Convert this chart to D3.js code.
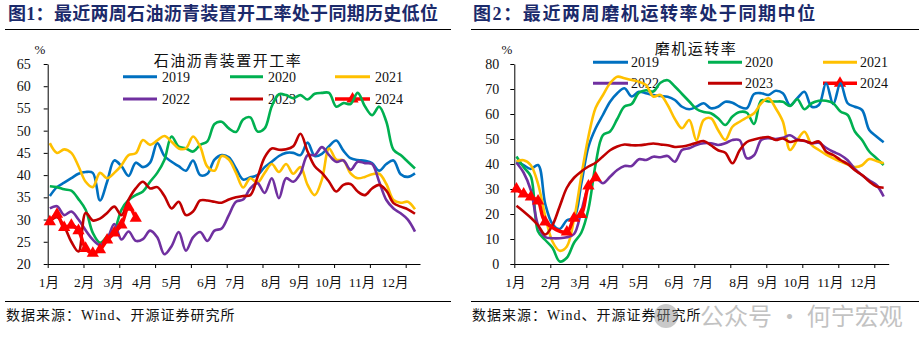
<!DOCTYPE html>
<html>
<head>
<meta charset="utf-8">
<script src="https://cdn.jsdelivr.net/npm/d3@7"></script>
<style>
  body { margin: 0; background: #fff; }
  svg { display: block; }
</style>
</head>
<body>
<svg id="chart" width="922" height="354"></svg>
<script>
/* ---------- data ---------- */
const years = ['2019', '2020', '2021', '2022', '2023', '2024'];
const colors = ['#0070C0', '#00B050', '#FFC000', '#7030A0', '#C00000', '#FF0000'];
const monthLabels = ['1月', '2月', '3月', '4月', '5月', '6月', '7月', '8月', '9月', '10月', '11月', '12月'];
// label centres in week units (axis runs 0..52)
const monthPos = [0.15, 5.1, 9.2, 13.2, 17.35, 22.25, 26.2, 31.25, 35.2, 39.25, 43.9, 48.5];

// 石油沥青装置开工率 (%), weekly
const asphalt2019 = [35.3, 37.3, 38.3, 39.3, 40.3, 40.7, 40.5, 34.3, 38.5, 43.3, 42, 39.8, 42.8, 41.8, 42.8, 47.2, 44.3, 43, 42, 41, 43.3, 40, 40.3, 43.5, 44.5, 44, 41.5, 39, 39.5, 40, 41.8, 43, 44.3, 45, 45, 44.5, 47.3, 44.3, 44.8, 46.5, 47.8, 45.5, 43.8, 43.4, 43.2, 42.7, 41, 42.5, 43.3, 40.2, 39.6, 40.4];
const asphalt2020 = [37.5, 37.3, 36.8, 36.5, 34.6, 32.2, 27, 24.8, 26.2, 27.6, 32.2, 34.4, 35.5, 36.3, 38.5, 40.5, 43.4, 48.7, 46.4, 46, 45.3, 46.8, 47.6, 51.5, 52, 50.5, 49.7, 52.5, 53, 49.8, 50.5, 55.5, 58.2, 58, 57.3, 58, 57, 58.3, 58.5, 58.5, 55.4, 56.2, 56, 58.5, 55.5, 53.5, 55.4, 52, 45.7, 44.5, 43, 41.5];
const asphalt2021 = [47.2, 45, 45.8, 45, 42, 38.5, 37.3, 40.5, 39.3, 40.5, 42.2, 44.5, 44.9, 47.9, 46.8, 47.8, 48.8, 47.5, 46, 46, 48.7, 46.4, 41.9, 41, 44.3, 43.5, 40.5, 37.2, 39.3, 38.3, 40.5, 42.5, 40.7, 42.5, 40.3, 41.8, 37.8, 35.5, 39, 46, 43.5, 43.3, 40.4, 39.3, 39.6, 40.2, 40.3, 38, 34.4, 33.8, 34, 32.3];
const asphalt2022 = [32.5, 33, 31, 31.8, 30, 27.6, 25.5, 24.3, 25.6, 29, 25.5, 27.3, 25.2, 25.6, 27.5, 26, 22.2, 24, 27.2, 23, 26, 27.2, 25.2, 27.5, 28, 31, 34, 34.5, 37, 38.2, 36, 39.3, 34.8, 39.3, 38.5, 40.4, 44.5, 44.5, 46.3, 44.5, 43, 43.3, 41.2, 43, 42.7, 42.5, 38.5, 34.4, 32.5, 31.4, 30, 27.3];
const asphalt2023 = [29.5, 30.5, 28.5, 25, 22.8, 31.5, 29.8, 30.2, 31.5, 32.9, 31, 34.5, 37, 38.5, 37, 37.3, 35.3, 32.5, 34, 31, 31.8, 34.3, 34.3, 34, 33.8, 34.5, 35, 35.3, 35.5, 39.5, 44, 46, 45.7, 45.8, 46.5, 49.3, 45.3, 42, 40.5, 38.5, 36.3, 37.8, 38, 36.3, 35.5, 37, 37.8, 36.5, 33.7, 32.9, 32.3, 31.3];
const asphalt2024 = [29.5, 31.2, 28.2, 28.7, 27.5, 23.5, 22.4, 23.2, 25.4, 27, 28.8, 32.8, 30.3];

// 磨机运转率 (%), weekly; 2024 has no reading in the two Spring Festival weeks
const mill2019 = [41, 39.5, 38, 39.6, 24, 16, 14, 17.5, 18.5, 32, 46.9, 54.3, 59.6, 64.9, 68.3, 70.3, 67, 68.9, 68.3, 67.6, 67.2, 66.9, 65.6, 62.9, 61.9, 62.9, 64.3, 62.3, 62.9, 64.9, 64.5, 62.9, 62.3, 68, 68.3, 67.6, 69.3, 68.3, 63.5, 66.3, 68.9, 62.9, 63.6, 72.3, 64, 72.3, 64.3, 62.9, 61.6, 53.6, 51, 48.7];
const mill2020 = [43, 38.7, 35, 13, 9.6, 6.5, 1, 2.5, 8.5, 12.5, 22, 40, 51.5, 53, 58, 63, 64, 68.5, 69.5, 69, 72.5, 73.5, 71, 68, 65, 62, 60.8, 60.3, 58.3, 55.6, 59, 60.8, 60.5, 56, 65.5, 65, 65, 64.9, 63.2, 65.9, 61.9, 64.3, 65.3, 65.3, 64.3, 61, 59.6, 53, 49.6, 45, 42.3, 39.6];
const mill2021 = [41, 41.5, 39.5, 32, 19, 9, 5.3, 7, 18, 35, 51, 62.5, 67.5, 72.3, 74.9, 74.3, 73.6, 72.9, 71.6, 67, 67.6, 63.6, 58, 54.3, 57.6, 49.5, 57.6, 58.3, 53.6, 49.6, 54.9, 56.9, 58.6, 60.3, 64.3, 66.3, 62.3, 57, 45.6, 49.6, 52.9, 47.6, 45.6, 43.8, 42.3, 41, 39.8, 38.8, 39.5, 42, 41.2, 40.3];
const mill2022 = [40.5, 36.5, 29.5, 15.5, 10.8, 10.3, 10.3, 10.7, 12, 21, 30.9, 34.3, 32.3, 34.9, 37.6, 39.2, 39.2, 41.9, 41.6, 42.9, 42.7, 43.2, 40.9, 45.6, 46.3, 47.6, 48.3, 48.3, 47.6, 48.3, 49.6, 49.5, 42.3, 43.5, 49.6, 50.3, 50, 50.5, 51.5, 49.8, 49.2, 48.3, 48.5, 46.5, 44.9, 43.6, 41.5, 38, 35.5, 33.5, 31.6, 27];
const mill2023 = [23.3, 21, 18.5, 15.5, 11.8, 15.5, 23, 30.5, 34.5, 37, 39, 40.5, 43, 45.5, 47, 47.8, 47.5, 47.5, 47.8, 48.2, 47.8, 47.5, 46.8, 47, 47.6, 48.5, 49.2, 47.5, 45.5, 44.5, 40.3, 45.5, 48.8, 49.8, 50.5, 50.8, 49.6, 50.2, 48.8, 49.5, 49.3, 48.3, 49, 45, 43.6, 41.6, 40, 37.5, 35.6, 33, 31, 30.5];
const mill2024 = [30, 28, 26.8, 25.2, 16.8, null, null, 12.8, 18.3, 19.8, 31.2, 34.5];

const asphaltTicks = [20, 25, 30, 35, 40, 45, 50, 55, 60, 65];
const millTicks = [0, 10, 20, 30, 40, 50, 60, 70, 80];

/* ---------- drawing ---------- */
const svg = d3.select('#chart');
const SERIF = "'Liberation Serif', 'Noto Sans CJK SC', serif";
const CJK = "'Noto Sans CJK SC', sans-serif";
const TOP = 64, BOTTOM = 264;
const MARK = 65; // triangle marker area

function drawPanel(p) {
  const g = svg.append('g');
  const x = d3.scaleLinear().domain([0, 52]).range([p.x0, p.x1]);
  const y = d3.scaleLinear().domain(p.yDomain).range([BOTTOM, TOP]);
  const px = i => x(i + 0.3);

  // header
  g.append('text')
    .attr('x', p.titleX).attr('y', 20)
    .attr('font-family', SERIF).attr('font-size', 18).attr('font-weight', 'bold')
    .attr('letter-spacing', p.titleSpacing)
    .attr('fill', '#1B2A6B')
    .text(p.title);
  g.append('line')
    .attr('x1', p.ruleX[0]).attr('x2', p.ruleX[1]).attr('y1', 29.5).attr('y2', 29.5)
    .attr('stroke', '#000').attr('stroke-width', 1);

  // footer
  g.append('line')
    .attr('x1', p.ruleX[0]).attr('x2', p.ruleX[1]).attr('y1', 301.5).attr('y2', 301.5)
    .attr('stroke', '#000').attr('stroke-width', 1);
  g.append('text')
    .attr('x', p.ruleX[0] + 1).attr('y', 320)
    .attr('font-family', SERIF).attr('font-size', 14).attr('letter-spacing', 1)
    .attr('fill', '#111')
    .text('数据来源：Wind、开源证券研究所');

  // axes
  const yAxis = g.append('g')
    .attr('transform', `translate(${p.x0},0)`)
    .call(d3.axisLeft(y).tickValues(p.yTicks).tickSize(4).tickSizeOuter(0).tickPadding(p.tickPad));
  const xAxis = g.append('g')
    .attr('transform', `translate(0,${BOTTOM})`)
    .call(d3.axisBottom(x).tickValues(d3.range(0, 51, 5)).tickSize(4).tickSizeOuter(0).tickFormat(''));
  [yAxis, xAxis].forEach(a => {
    a.select('.domain').attr('stroke', '#000');
    a.selectAll('.tick line').attr('stroke', '#000');
    a.selectAll('text').attr('font-family', SERIF).attr('font-size', 14).attr('fill', '#111');
  });

  g.append('g').selectAll('text')
    .data(monthLabels)
    .join('text')
    .attr('x', (d, i) => x(monthPos[i]))
    .attr('y', 287)
    .attr('text-anchor', 'middle')
    .attr('font-family', SERIF).attr('font-size', 13.5).attr('fill', '#111')
    .text(d => d);

  g.append('text')
    .attr('x', p.pctX).attr('y', 54)
    .attr('text-anchor', 'middle')
    .attr('font-family', SERIF).attr('font-size', 13).attr('fill', '#111')
    .text('%');

  g.append('text')
    .attr('x', p.nameX).attr('y', p.nameY)
    .attr('text-anchor', 'middle')
    .attr('font-family', CJK).attr('font-size', 15).attr('letter-spacing', 1.5)
    .attr('fill', '#111')
    .text(p.name);

  // legend (under the lines, as in the source)
  const leg = g.append('g');
  years.forEach((yr, i) => {
    const row = Math.floor(i / 3), col = i % 3;
    const ly = p.legRows[row];
    const [lx1, lx2] = p.legCols[col];
    leg.append('line')
      .attr('x1', lx1).attr('x2', lx2).attr('y1', ly).attr('y2', ly)
      .attr('stroke', colors[i]).attr('stroke-width', i === 5 ? 3.5 : 3);
    if (i === 5) {
      leg.append('path')
        .attr('d', d3.symbol(d3.symbolTriangle, MARK)())
        .attr('transform', `translate(${(lx1 + lx2) / 2},${ly})`)
        .attr('fill', colors[i]);
    }
    leg.append('text')
      .attr('x', lx2 + p.legGap).attr('y', ly + 5)
      .attr('font-family', SERIF).attr('font-size', 14).attr('fill', '#111')
      .text(yr);
  });

  // lines
  const line = d3.line()
    .x(d => px(d.i))
    .y(d => y(d.v))
    .curve(d3.curveCatmullRom.alpha(0.5));

  p.series.forEach((vals, k) => {
    const pts = vals.map((v, i) => ({ i, v })).filter(d => d.v != null);
    g.append('path')
      .datum(pts)
      .attr('d', line)
      .attr('fill', 'none')
      .attr('stroke', colors[k])
      .attr('stroke-width', k === 5 ? 3.5 : 2.6)
      .attr('stroke-linejoin', 'round');
    if (k === 5) {
      g.append('g').selectAll('path')
        .data(pts)
        .join('path')
        .attr('d', d3.symbol(d3.symbolTriangle, MARK)())
        .attr('transform', d => `translate(${px(d.i)},${y(d.v)})`)
        .attr('fill', colors[k]);
    }
  });
}

drawPanel({
  x0: 47.7, x1: 420, yDomain: [20, 65], yTicks: asphaltTicks, tickPad: 13,
  title: '图1：最近两周石油沥青装置开工率处于同期历史低位', titleX: 8, titleSpacing: 0.3, ruleX: [5, 451],
  pctX: 40, name: '石油沥青装置开工率', nameX: 228, nameY: 66,
  legRows: [76.7, 99], legCols: [[123, 157], [230, 263], [335, 370]], legGap: 5,
  series: [asphalt2019, asphalt2020, asphalt2021, asphalt2022, asphalt2023, asphalt2024]
});

drawPanel({
  x0: 514.3, x1: 888.7, yDomain: [0, 80], yTicks: millTicks, tickPad: 11,
  title: '图2：最近两周磨机运转率处于同期中位', titleX: 473, titleSpacing: 1.6, ruleX: [471, 919],
  pctX: 507, name: '磨机运转率', nameX: 696, nameY: 54,
  legRows: [62.3, 83.3], legCols: [[593, 628], [708, 742], [823, 857]], legGap: 3,
  series: [mill2019, mill2020, mill2021, mill2022, mill2023, mill2024]
});

// watermark
const wm = svg.append('g').attr('opacity', 0.45);
wm.append('circle').attr('cx', 666).attr('cy', 316).attr('r', 12).attr('fill', '#8a8a8a');
wm.append('text')
  .attr('x', 700).attr('y', 325)
  .attr('font-family', CJK).attr('font-size', 24).attr('fill', '#7a7a7a')
  .text('公众号 · 何宁宏观');
</script>
</body>
</html>
